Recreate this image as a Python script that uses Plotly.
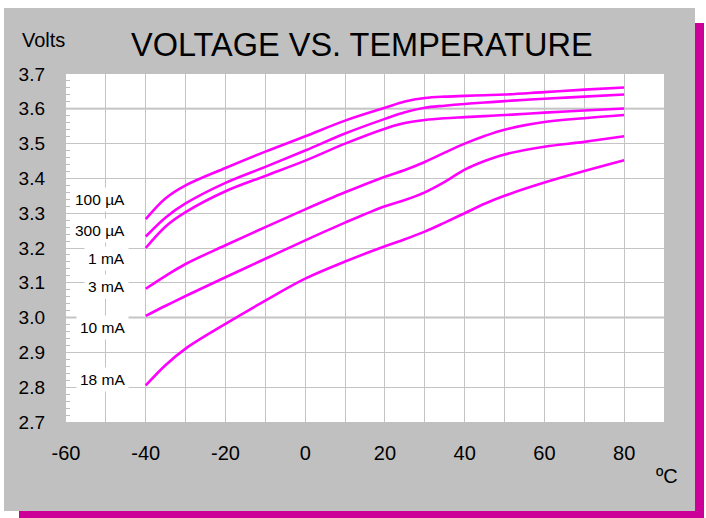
import plotly.graph_objects as go

# ---- data ----
temps = [-40, -35, -30, -20, -10, 0, 10, 20, 25, 30, 35, 40, 45, 50, 60, 70, 80]
v_100uA = [3.283, 3.343, 3.380, 3.430, 3.477, 3.521, 3.566, 3.603, 3.621, 3.631, 3.635, 3.637, 3.639, 3.641, 3.648, 3.655, 3.661]
v_300uA = [3.233, 3.288, 3.328, 3.387, 3.433, 3.480, 3.529, 3.571, 3.590, 3.603, 3.609, 3.614, 3.618, 3.622, 3.629, 3.635, 3.641]
v_1mA = [3.200, 3.262, 3.303, 3.363, 3.407, 3.451, 3.500, 3.543, 3.559, 3.568, 3.573, 3.576, 3.579, 3.582, 3.589, 3.595, 3.601]
v_3mA = [3.083, 3.120, 3.154, 3.208, 3.260, 3.311, 3.360, 3.405, 3.424, 3.447, 3.474, 3.500, 3.522, 3.540, 3.562, 3.573, 3.582]
v_10mA = [3.005, 3.034, 3.062, 3.116, 3.169, 3.222, 3.273, 3.320, 3.338, 3.360, 3.390, 3.425, 3.450, 3.469, 3.491, 3.505, 3.521]
v_18mA = [2.805, 2.864, 2.911, 2.982, 3.049, 3.112, 3.161, 3.205, 3.225, 3.247, 3.273, 3.300, 3.327, 3.350, 3.388, 3.421, 3.452]

series = [v_100uA, v_300uA, v_1mA, v_3mA, v_10mA, v_18mA]
labels = ["100 µA", "300 µA", "1 mA", "3 mA", "10 mA", "18 mA"]
label_y = [3.340, 3.249, 3.171, 3.088, 2.971, 2.821]
label_x = -44.3

x_ticks = [-60, -40, -20, 0, 20, 40, 60, 80]
y_ticks = [2.7, 2.8, 2.9, 3.0, 3.1, 3.2, 3.3, 3.4, 3.5, 3.6, 3.7]

# ---- layout geometry (pixels) ----
W, H = 706, 518
L, R, T, B = 66, 664, 74, 422


def px(x):
    return (x - L) / (R - L)


def py(y):
    return (B - y) / (B - T)


FONT = "Liberation Sans, Arial, sans-serif"
LINE = "#ff00ff"
GRID = "#c4c4c4"

fig = go.Figure()
for vals in series:
    fig.add_trace(go.Scatter(
        x=temps, y=vals, mode="lines",
        line=dict(color=LINE, width=2.6, shape="spline", smoothing=1.0),
        hoverinfo="skip", showlegend=False,
    ))

shapes = [
    # magenta shadow
    dict(type="rect", xref="paper", yref="paper", layer="below",
         x0=px(19), x1=px(704), y0=py(518), y1=py(23),
         fillcolor="#cc0099", line=dict(width=0)),
    # gray panel
    dict(type="rect", xref="paper", yref="paper", layer="below",
         x0=px(4), x1=px(695), y0=py(511), y1=py(8),
         fillcolor="#c0c0c0", line=dict(width=0)),
    # white plot area
    dict(type="rect", xref="paper", yref="paper", layer="below",
         x0=0, x1=1, y0=0, y1=1,
         fillcolor="white", line=dict(width=0)),
]
for yy in (3.0, 3.6):
    shapes.append(dict(type="line", xref="paper", yref="y", layer="below",
                       x0=0, x1=1, y0=yy, y1=yy,
                       line=dict(color="#d8d8d8", width=2.5)))

annotations = [
    dict(text="VOLTAGE VS. TEMPERATURE", xref="paper", yref="paper",
         x=px(362), y=py(45), xanchor="center", yanchor="middle", showarrow=False,
         font=dict(family=FONT, size=32.5, color="black")),
    dict(text="Volts", xref="paper", yref="paper",
         x=px(43), y=py(40), xanchor="center", yanchor="middle", showarrow=False,
         font=dict(family=FONT, size=20, color="black")),
    dict(text="ºC", xref="paper", yref="paper",
         x=px(667), y=py(476), xanchor="center", yanchor="middle", showarrow=False,
         font=dict(family=FONT, size=20, color="black")),
]
for lab, ly in zip(labels, label_y):
    annotations.append(dict(
        text=lab, x=label_x, y=ly, xref="x", yref="y",
        xanchor="right", yanchor="middle", showarrow=False,
        bgcolor="white", borderpad=3,
        font=dict(family=FONT, size=15.5, color="black")))

fig.update_layout(
    width=W, height=H,
    margin=dict(l=L, r=W - R, t=T, b=H - B, pad=0),
    paper_bgcolor="white", plot_bgcolor="white",
    shapes=shapes, annotations=annotations,
    xaxis=dict(
        range=[-60, 90], tickvals=x_ticks,
        ticktext=[str(v) for v in x_ticks],
        showgrid=False, zeroline=False, showline=False,
        ticks="", ticklabelstandoff=17,
        tickfont=dict(family=FONT, size=20, color="black"),
        minor=dict(tickvals=list(range(-50, 90, 10)), showgrid=True,
                   gridcolor=GRID, gridwidth=1, ticks=""),
    ),
    yaxis=dict(
        range=[2.7, 3.7], tickvals=y_ticks,
        ticktext=[f"{v:.1f}" for v in y_ticks],
        showgrid=True, gridcolor=GRID, gridwidth=1,
        zeroline=False, showline=False,
        ticks="inside", ticklen=6, tickcolor=GRID,
        ticklabelstandoff=20,
        tickfont=dict(family=FONT, size=19, color="black"),
        minor=dict(dtick=0.02, tick0=2.7, ticks="inside", ticklen=4,
                   tickcolor="#bdbdbd", showgrid=False),
    ),
)

fig.write_html("out.html", config={"displayModeBar": False},
               post_script="document.body.style.margin='0';")
